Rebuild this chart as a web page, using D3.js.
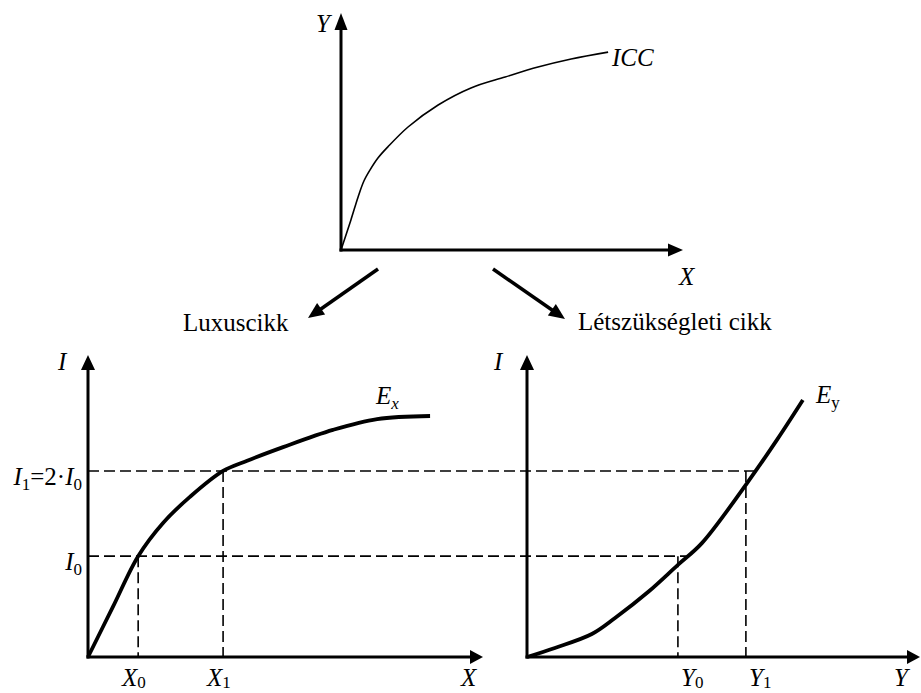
<!DOCTYPE html>
<html><head><meta charset="utf-8">
<script src="https://cdn.jsdelivr.net/npm/d3@7"></script>
<style>
body{margin:0;background:#fff}
svg{display:block}
</style>
</head><body>
<svg id="c" width="921" height="693"></svg>
<script>
// ---- data ----
const iccX = [0, 0.29, 0.5, 0.67, 0.85, 1.08, 1.37, 1.96, 2.84, 3.8, 4.8, 5.76, 6.73, 7.81];
const iccY = [0, 1.27, 2.24, 2.91, 3.38, 3.88, 4.35, 5.19, 6.12, 6.84, 7.3, 7.72, 8.06, 8.35];
const exX  = [0, 0.63, 1.27, 1.9, 2.58, 3.42, 4.03, 4.94, 6.2, 7.32, 8.66];
const exI  = [0, 1.66, 3.34, 4.44, 5.3, 6.16, 6.5, 6.95, 7.52, 7.88, 7.98];
const eyY  = [0, 0.71, 1.65, 2.24, 3.08, 3.84, 4.45, 5.6, 6.36, 7.02];
const eyI  = [0, 0.3, 0.76, 1.29, 2.15, 3.05, 3.77, 5.76, 7.19, 8.51];
const incomeLevels = [3.34, 6.16];          // I0, I1
const xLevels = [1.27, 3.42];               // X0, X1
const yLevels = [3.84, 5.57];               // Y0, Y1
const goodLabels = ["Luxuscikk", "Létszükségleti cikk"];

const FONT = '"Liberation Serif", "DejaVu Serif", "Times New Roman", serif';
const FS = 25, SUB = 17;

// ---- scales ----
const svg = d3.select("#c");
const xT = d3.scaleLinear([0, 10], [341, 683]);
const yT = d3.scaleLinear([0, 10], [250, 13]);
const iS = d3.scaleLinear([0, 10], [657, 355]);
const xL = d3.scaleLinear([0, 10], [88, 483]);
const xR = d3.scaleLinear([0, 10], [527, 920]);
const curve = d3.curveCatmullRom.alpha(0.5);

function arrow(x1, y1, x2, y2, len, hw, sw) {
  const dx = x2 - x1, dy = y2 - y1, L = Math.hypot(dx, dy);
  const ux = dx / L, uy = dy / L;
  const bx = x2 - ux * len, by = y2 - uy * len;
  svg.append("line").attr("x1", x1).attr("y1", y1)
    .attr("x2", bx + ux * 2).attr("y2", by + uy * 2)
    .attr("stroke", "#000").attr("stroke-width", sw);
  svg.append("path")
    .attr("d", `M${x2},${y2}L${bx - uy * hw},${by + ux * hw}L${bx + uy * hw},${by - ux * hw}Z`)
    .attr("fill", "#000");
}

function label(x, y, parts, anchor, subDy) {
  const sd = subDy == null ? 5 : subDy;
  const t = svg.append("text").attr("x", x).attr("y", y).attr("font-size", FS)
    .attr("font-family", FONT).attr("fill", "#000")
    .attr("text-anchor", anchor || "start");
  let shift = 0;
  parts.forEach(p => {
    const s = t.append("tspan").text(p.t);
    if (p.i) s.attr("font-style", "italic");
    if (p.sub) { s.attr("font-size", SUB).attr("dy", sd - shift); shift = sd; }
    else { s.attr("dy", -shift); shift = 0; }
  });
  return t;
}

// ---- top panel ----
arrow(xT(0), yT(0) + 1.5, xT(0), yT(10), 17, 6.5, 3);
arrow(xT(0) - 1.5, yT(0), xT(10), yT(0), 15, 6.5, 3);
svg.append("path")
  .attr("d", d3.line().x((d, i) => xT(iccX[i])).y(d => yT(d)).curve(curve)(iccY))
  .attr("fill", "none").attr("stroke", "#000").attr("stroke-width", 1.6);
label(316, 32, [{t: "Y", i: 1}]);
label(612, 66, [{t: "ICC", i: 1}]);
label(679, 285, [{t: "X", i: 1}]);

// connecting arrows
arrow(378, 269, 308, 318, 16, 7, 3.5);
arrow(493, 269, 565, 319, 16, 7, 3.5);
label(183, 331, [{t: goodLabels[0]}]);
label(578, 330, [{t: goodLabels[1]}]);

// ---- dashed guides ----
const dash = "11,5";
svg.append("line").attr("x1", xL(0)).attr("x2", xR(yLevels[1]) + 14)
  .attr("y1", iS(incomeLevels[1])).attr("y2", iS(incomeLevels[1]))
  .attr("stroke", "#000").attr("stroke-width", 1.6).attr("stroke-dasharray", dash);
svg.append("line").attr("x1", xL(0)).attr("x2", xR(yLevels[0]) + 9)
  .attr("y1", iS(incomeLevels[0])).attr("y2", iS(incomeLevels[0]))
  .attr("stroke", "#000").attr("stroke-width", 1.6).attr("stroke-dasharray", dash);
xLevels.forEach((v, k) => {
  svg.append("line").attr("x1", xL(v)).attr("x2", xL(v))
    .attr("y1", iS(incomeLevels[k])).attr("y2", iS(0))
    .attr("stroke", "#000").attr("stroke-width", 1.6).attr("stroke-dasharray", dash);
});
yLevels.forEach((v, k) => {
  svg.append("line").attr("x1", xR(v)).attr("x2", xR(v))
    .attr("y1", iS(incomeLevels[k])).attr("y2", iS(0))
    .attr("stroke", "#000").attr("stroke-width", 1.6).attr("stroke-dasharray", dash);
});

// ---- bottom-left panel ----
arrow(xL(0), iS(0) + 1.5, xL(0), iS(10), 15, 7, 3);
arrow(xL(0) - 1.5, iS(0), xL(10), iS(0), 13, 7, 3);
svg.append("path")
  .attr("d", d3.line().x((d, i) => xL(exX[i])).y(d => iS(d)).curve(curve)(exI))
  .attr("fill", "none").attr("stroke", "#000").attr("stroke-width", 3.8);
label(58, 370, [{t: "I", i: 1}]);
label(376, 404, [{t: "E", i: 1}, {t: "x", i: 1, sub: 1}]);
label(82, iS(incomeLevels[1]) + 14, [{t: "I", i: 1}, {t: "1", sub: 1}, {t: "=2·"}, {t: "I", i: 1}, {t: "0", sub: 1}], "end");
label(82, iS(incomeLevels[0]) + 14, [{t: "I", i: 1}, {t: "0", sub: 1}], "end");
label(122, 686, [{t: "X", i: 1}, {t: "0", sub: 1}], "start", 2);
label(207, 686, [{t: "X", i: 1}, {t: "1", sub: 1}], "start", 2);
label(461, 686, [{t: "X", i: 1}]);

// ---- bottom-right panel ----
arrow(xR(0), iS(0) + 1.5, xR(0), iS(10), 15, 7, 3);
arrow(xR(0) - 1.5, iS(0), xR(10), iS(0), 13, 7, 3);
svg.append("path")
  .attr("d", d3.line().x((d, i) => xR(eyY[i])).y(d => iS(d)).curve(curve)(eyI))
  .attr("fill", "none").attr("stroke", "#000").attr("stroke-width", 3.8);
label(494, 370, [{t: "I", i: 1}]);
label(816, 403, [{t: "E", i: 1}, {t: "y", sub: 1}]);
label(681, 686, [{t: "Y", i: 1}, {t: "0", sub: 1}], "start", 2);
label(749, 686, [{t: "Y", i: 1}, {t: "1", sub: 1}], "start", 2);
label(894, 686, [{t: "Y", i: 1}]);
</script>
</body></html>
